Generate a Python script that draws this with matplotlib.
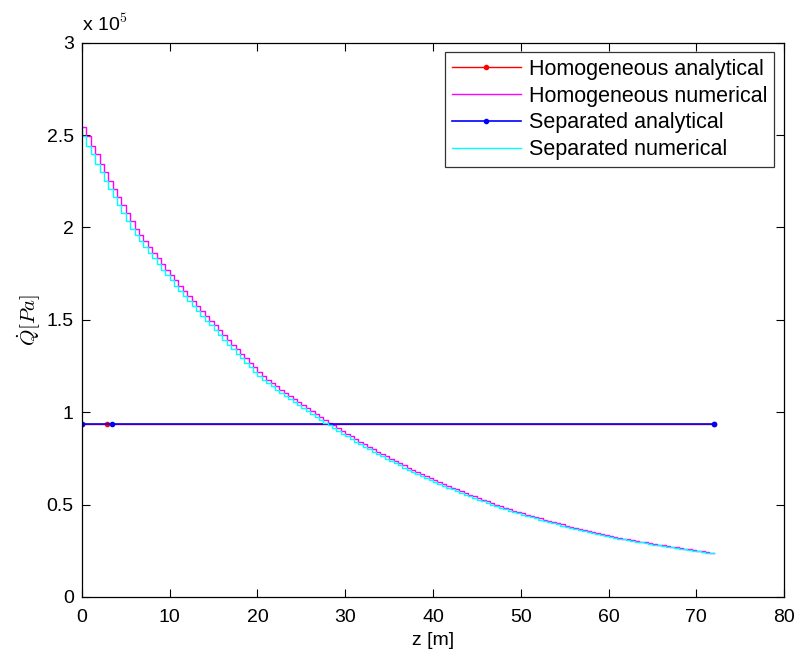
import matplotlib
matplotlib.use('Agg')
import matplotlib.pyplot as plt

# depth grid [m], 0.5 m cells from 0 to 72
z = [0.5 * i for i in range(145)]

# numerical heat source, units of 1e5 Pa
q_num = [2.545, 2.494, 2.443, 2.395, 2.346, 2.299, 2.252, 2.208, 2.163, 2.120,
         2.077, 2.036, 1.994, 1.961, 1.927, 1.896, 1.864, 1.833, 1.802, 1.772,
         1.742, 1.713, 1.684, 1.656, 1.627, 1.600, 1.573, 1.547, 1.520, 1.495,
         1.470, 1.443, 1.416, 1.391, 1.365, 1.340, 1.315, 1.291, 1.266, 1.243,
         1.220, 1.198, 1.176, 1.158, 1.140, 1.122, 1.104, 1.087, 1.070, 1.054,
         1.037, 1.021, 1.005, 0.989, 0.973, 0.959, 0.944, 0.929, 0.913, 0.898,
         0.883, 0.869, 0.855, 0.841, 0.826, 0.813, 0.799, 0.786, 0.773, 0.761,
         0.748, 0.736, 0.723, 0.712, 0.700, 0.688, 0.676, 0.665, 0.654, 0.643,
         0.632, 0.622, 0.611, 0.601, 0.591, 0.582, 0.572, 0.563, 0.553, 0.544,
         0.535, 0.526, 0.517, 0.509, 0.500, 0.492, 0.484, 0.476, 0.468, 0.460,
         0.452, 0.445, 0.438, 0.432, 0.425, 0.418, 0.411, 0.405, 0.399, 0.393,
         0.386, 0.380, 0.374, 0.368, 0.362, 0.357, 0.351, 0.346, 0.340, 0.335,
         0.330, 0.325, 0.320, 0.316, 0.312, 0.308, 0.303, 0.299, 0.295, 0.291,
         0.287, 0.283, 0.279, 0.275, 0.271, 0.268, 0.264, 0.261, 0.257, 0.254,
         0.250, 0.247, 0.243, 0.240, 0.236]

# analytical solutions (flat lines)
z_hom = [0, 2.8, 72]
q_hom = [0.934, 0.934, 0.934]
z_sep = [0, 3.45, 72]
q_sep = [0.934, 0.934, 0.934]

labels = ['Homogeneous analytical', 'Homogeneous numerical',
          'Separated analytical', 'Separated numerical']

plt.rcParams['font.family'] = ['Liberation Sans', 'DejaVu Sans']
plt.rcParams['mathtext.fontset'] = 'cm'

fig = plt.figure(figsize=(7.95, 6.53), dpi=100)
ax = fig.add_axes([0.1031, 0.0858, 0.8831, 0.8488])

ax.plot(z_hom, q_hom, color='red', marker='.', markersize=6, lw=1.0, label=labels[0])
ax.plot(z, q_num, color='magenta', lw=1.0, drawstyle='steps-post', label=labels[1])
ax.plot(z_sep, q_sep, color='blue', marker='.', markersize=6, lw=1.2, label=labels[2])
ax.plot(z, q_num, color='cyan', lw=1.0, drawstyle='steps-pre', label=labels[3])

ax.set_xlim(0, 80)
ax.set_ylim(0, 3)
ax.set_xticks(range(0, 81, 10))
ax.set_yticks([0, 0.5, 1, 1.5, 2, 2.5, 3])
ax.set_yticklabels(['0', '0.5', '1', '1.5', '2', '2.5', '3'])
ax.tick_params(direction='in', top=True, right=True, length=6, labelsize=14, width=0.8)
ax.tick_params(axis='x', pad=9)
ax.tick_params(axis='y', pad=6)
for s in ax.spines.values():
    s.set_linewidth(0.9)

ax.set_xlabel('z [m]', fontsize=14, labelpad=4)
ax.set_ylabel(r'$\dot{Q}[Pa]$', fontsize=15)
ax.yaxis.set_label_coords(-0.055, 0.5)
ax.text(0.0, 1.014, r'x 10$^5$', transform=ax.transAxes, fontsize=14,
        ha='left', va='bottom')

leg = ax.legend(loc='upper right', fontsize=15.5, frameon=True, fancybox=False,
                edgecolor='black', handlelength=3.2, labelspacing=0.27,
                borderaxespad=0.45, borderpad=0.3, handletextpad=0.4)
leg.get_frame().set_linewidth(0.9)

fig.savefig('out.png', dpi=100)
